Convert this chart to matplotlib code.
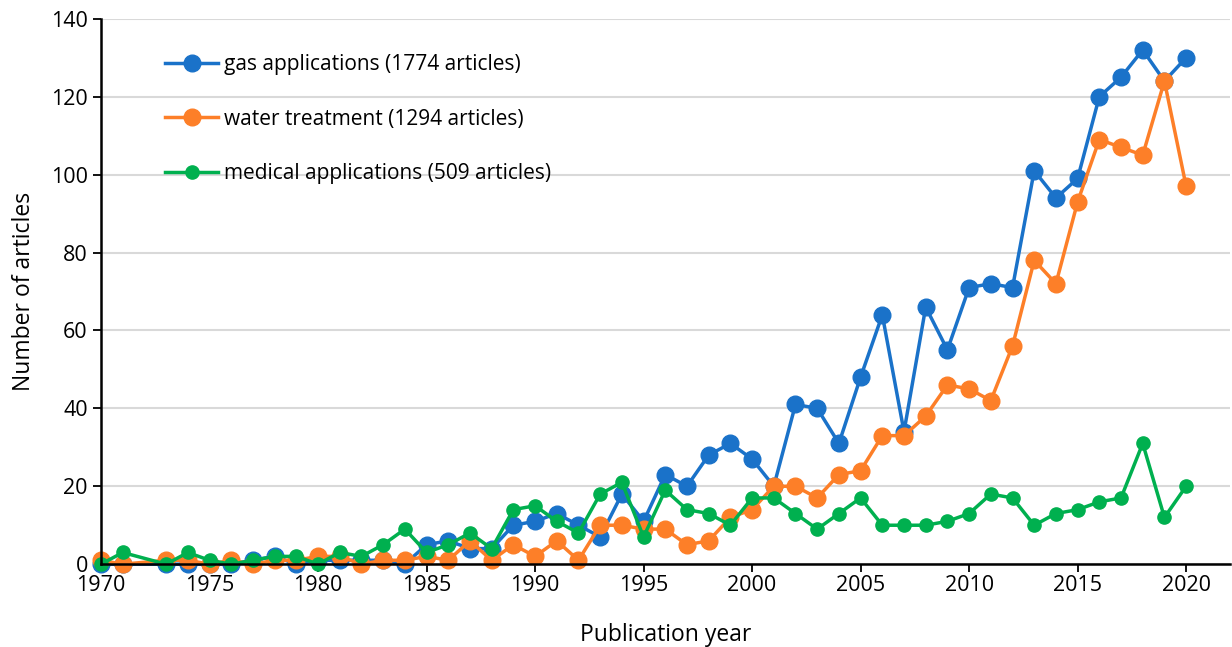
import numpy as np
import matplotlib
matplotlib.use('Agg')
import matplotlib.pyplot as plt

plt.rcParams['font.family'] = ['Open Sans', 'DejaVu Sans']

# publication years (1972 has no entry)
years = [1970, 1971] + list(range(1973, 2021))

gas = [0, 0, 0, 0, 0, 0, 1, 2, 0, 1, 1, 1, 1, 0,
       5, 6, 4, 4, 10, 11, 13, 10, 7, 18, 11, 23, 20, 28, 31, 27,
       20, 41, 40, 31, 48, 64, 34, 66, 55, 71, 72, 71, 101, 94, 99,
       120, 125, 132, 124, 130]
water = [1, 0, 1, 1, 0, 1, 0, 1, 1, 2, 2, 0, 1, 1,
         2, 1, 6, 1, 5, 2, 6, 1, 10, 10, 9, 9, 5, 6, 12, 14,
         20, 20, 17, 23, 24, 33, 33, 38, 46, 45, 42, 56, 78, 72, 93,
         109, 107, 105, 124, 97]
medical = [0, 3, 0, 3, 1, 0, 1, 2, 2, 0, 3, 2, 5, 9,
           3, 5, 8, 4, 14, 15, 11, 8, 18, 21, 7, 19, 14, 13, 10, 17,
           17, 13, 9, 13, 17, 10, 10, 10, 11, 13, 18, 17, 10, 13, 14,
           16, 17, 31, 12, 20]

labels = ['gas applications (1774 articles)',
          'water treatment (1294 articles)',
          'medical applications (509 articles)']

fig = plt.figure(figsize=(12.32, 6.47), dpi=100)
ax = fig.add_axes([0.082, 0.128, 0.916, 0.843])

ax.plot(years, gas, color='#1a72c9', lw=2.5, marker='o', ms=12, label=labels[0], clip_on=False)
ax.plot(years, water, color='#fd7f28', lw=2.5, marker='o', ms=12, label=labels[1], clip_on=False)
ax.plot(years, medical, color='#00b04f', lw=2.5, marker='o', ms=9.5, label=labels[2], clip_on=False)

ax.set_xlim(1970, 2022)
ax.set_ylim(0, 140)
ax.set_xticks(range(1970, 2021, 5))
ax.set_yticks(range(0, 141, 20))
ax.yaxis.grid(True, color='#d9d9d9', lw=1.5)
ax.set_axisbelow(True)
for s in ['top', 'right']:
    ax.spines[s].set_visible(False)
ax.spines['left'].set_linewidth(1.8)
ax.spines['bottom'].set_linewidth(1.8)
ax.tick_params(axis='both', labelsize=15.5, width=1.3, length=6, direction='out')
ax.tick_params(axis='x', pad=2)
ax.set_xlabel('Publication year', fontsize=16.5, labelpad=19)
ax.set_ylabel('Number of articles', fontsize=16.5, labelpad=11)

ax.legend(loc='upper left', bbox_to_anchor=(0.0567, 0.935), frameon=False,
          fontsize=15, labelspacing=1.6, handlelength=2.55, handletextpad=0.3,
          borderpad=0, borderaxespad=0)

fig.savefig('out.png', dpi=100)
